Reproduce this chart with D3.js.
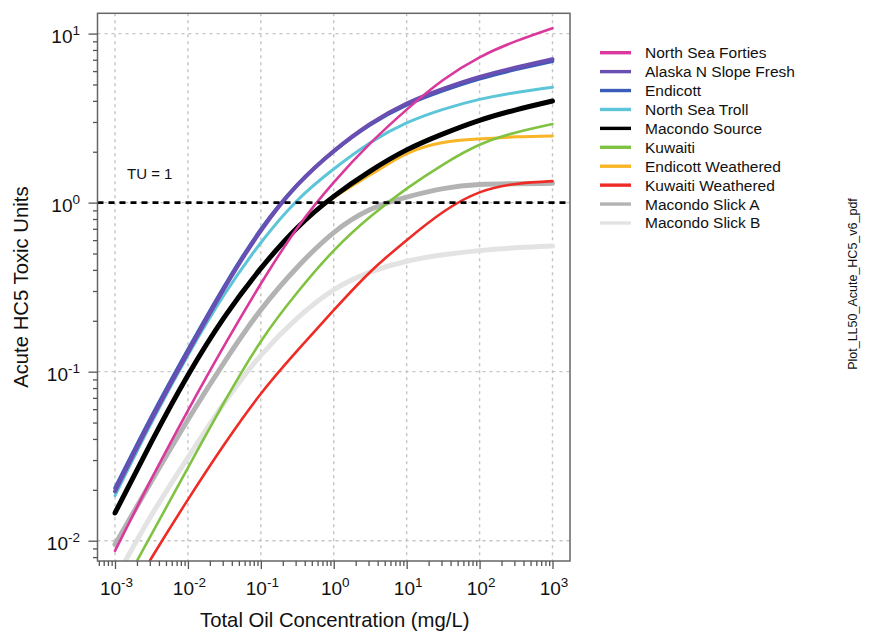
<!DOCTYPE html>
<html><head><meta charset="utf-8">
<script src="https://cdn.jsdelivr.net/npm/d3@7"></script>
<style>
body{margin:0;background:#fff}
svg{display:block;font-family:"Liberation Sans",Arial,Helvetica,sans-serif}
</style>
</head><body>
<svg id="chart" width="871" height="632"></svg>
<script>
// ---- data ----
const concentration = [1e-3, 3.162e-3, 1e-2, 3.162e-2, 0.1, 0.3162, 1, 3.162, 10, 31.62, 100, 316.2, 1000];
const seriesNames = ["North Sea Forties","Alaska N Slope Fresh","Endicott","North Sea Troll","Macondo Source",
                     "Kuwaiti","Endicott Weathered","Kuwaiti Weathered","Macondo Slick A","Macondo Slick B"];
const northSeaForties   = [0.0087, 0.0232, 0.0589, 0.143, 0.331, 0.708, 1.318, 2.24, 3.55, 5.31, 7.24, 9.02, 10.76];
const alaskaNSlopeFresh = [0.0196, 0.0521, 0.130, 0.312, 0.681, 1.268, 2.018, 2.917, 3.855, 4.71, 5.546, 6.295, 7.047];
const endicott          = [0.0205, 0.0542, 0.135, 0.321, 0.695, 1.276, 2.009, 2.884, 3.784, 4.603, 5.408, 6.138, 6.855];
const northSeaTroll     = [0.0185, 0.0498, 0.125, 0.286, 0.579, 1.03, 1.58, 2.26, 2.96, 3.56, 4.08, 4.48, 4.81];
const macondoSource     = [0.0146, 0.0384, 0.0951, 0.210, 0.408, 0.710, 1.089, 1.538, 2.051, 2.553, 3.069, 3.540, 3.990];
const kuwaiti           = [0.0044, 0.0109, 0.0270, 0.0662, 0.151, 0.294, 0.520, 0.824, 1.21, 1.68, 2.2, 2.6, 2.92];
const endicottWeathered = [0.0146, 0.0384, 0.0951, 0.210, 0.408, 0.705, 1.07, 1.46, 1.95, 2.27, 2.38, 2.45, 2.48];
const kuwaitiWeathered  = [0.00347, 0.0079, 0.0175, 0.0372, 0.074, 0.133, 0.231, 0.389, 0.60, 0.88, 1.15, 1.29, 1.34];
const macondoSlickA     = [0.0095, 0.0225, 0.052, 0.114, 0.232, 0.415, 0.665, 0.91, 1.078, 1.21, 1.279, 1.294, 1.300];
const macondoSlickB     = [0.0059, 0.01416, 0.031, 0.0655, 0.125, 0.2075, 0.305, 0.388, 0.45, 0.491, 0.52, 0.54, 0.553];
const seriesValues = [northSeaForties, alaskaNSlopeFresh, endicott, northSeaTroll, macondoSource,
                      kuwaiti, endicottWeathered, kuwaitiWeathered, macondoSlickA, macondoSlickB];
const xTickExponents = [-3,-2,-1,0,1,2,3];
const yTickExponents = [-2,-1,0,1];
const thresholdTU = 1;

// ---- styles ----
const seriesColors = ["#d9399c","#6a4fb3","#3b5cb8","#5cc6d8","#000000","#80c241","#f8b526","#ee2b25","#b3b3b3","#e3e3e3"];
const seriesWidths = [2.6, 4, 3.5, 3, 5, 2.6, 3, 2.6, 5, 5];
const drawOrder = [9,8,7,6,5,4,3,2,1,0];

const svg = d3.select("#chart");
const L = 97.5, R = 570, T = 13.3, B = 561;
const x = d3.scaleLog().domain([Math.pow(10,-3.24), Math.pow(10,3.24)]).range([L, R]);
const y = d3.scaleLog().domain([Math.pow(10,-2.12), Math.pow(10,1.12)]).range([B, T]);

svg.append("defs").append("clipPath").attr("id","clip")
  .append("rect").attr("x",L).attr("y",T).attr("width",R-L).attr("height",B-T);

// grid
const grid = svg.append("g");
xTickExponents.forEach(e => {
  const v = Math.pow(10,e);
  grid.append("line").attr("x1",x(v)).attr("x2",x(v)).attr("y1",T).attr("y2",B)
    .attr("stroke","#c4c4c4").attr("stroke-width",1.4).attr("stroke-dasharray","3,4");
});
yTickExponents.forEach(e => {
  const v = Math.pow(10,e);
  grid.append("line").attr("x1",L).attr("x2",R).attr("y1",y(v)).attr("y2",y(v))
    .attr("stroke","#c4c4c4").attr("stroke-width",1.4).attr("stroke-dasharray","3,4");
});

// curves
const line = d3.line()
  .x((d,i) => x(concentration[i]))
  .y(d => y(d))
  .curve(d3.curveNatural);
const curves = svg.append("g").attr("clip-path","url(#clip)");
drawOrder.forEach(k => {
  curves.append("path").datum(seriesValues[k])
    .attr("d", line).attr("fill","none")
    .attr("stroke", seriesColors[k]).attr("stroke-width", seriesWidths[k])
    .attr("stroke-linecap","round").attr("stroke-linejoin","round");
});

// TU = 1 line
svg.append("line").attr("x1",L).attr("x2",R).attr("y1",y(thresholdTU)).attr("y2",y(thresholdTU))
  .attr("stroke","#000").attr("stroke-width",2.8).attr("stroke-dasharray","6,5");
svg.append("text").attr("x",127).attr("y",179).attr("font-size",15).attr("fill","#111").text("TU = " + thresholdTU);

// box
svg.append("rect").attr("x",L).attr("y",T).attr("width",R-L).attr("height",B-T)
  .attr("fill","none").attr("stroke","#666").attr("stroke-width",1.5);

// x axis ticks
const xAxisG = svg.append("g").attr("transform",`translate(0,${B})`);
const xAxis = d3.axisBottom(x)
  .tickValues(d3.range(-4,4).flatMap(e => d3.range(1,10).map(m => m*Math.pow(10,e)))
     .filter(v => v >= x.domain()[0] && v <= x.domain()[1]))
  .tickFormat("").tickSizeOuter(0);
xAxisG.call(xAxis);
xAxisG.select(".domain").remove();
xAxisG.selectAll(".tick line").attr("stroke","#555").attr("stroke-width",1.3)
  .attr("y2", d => Math.abs(Math.log10(d) - Math.round(Math.log10(d))) < 1e-9 ? 8 : 5);

// y axis ticks
const yAxisG = svg.append("g").attr("transform",`translate(${L},0)`);
const yAxis = d3.axisLeft(y)
  .tickValues(d3.range(-3,3).flatMap(e => d3.range(1,10).map(m => m*Math.pow(10,e)))
     .filter(v => v >= y.domain()[0] && v <= y.domain()[1]))
  .tickFormat("").tickSizeOuter(0);
yAxisG.call(yAxis);
yAxisG.select(".domain").remove();
yAxisG.selectAll(".tick line").attr("stroke","#555").attr("stroke-width",1.3)
  .attr("x2", d => Math.abs(Math.log10(d) - Math.round(Math.log10(d))) < 1e-9 ? -9 : -4.5);

// tick labels
xTickExponents.forEach(e => {
  const t = svg.append("text").attr("x", x(Math.pow(10,e)) + 1.5).attr("y", 595)
    .attr("text-anchor","middle").attr("font-size",19).attr("fill","#111");
  t.append("tspan").text("10");
  t.append("tspan").attr("dy",-8).attr("font-size",13.5).text(String(e));
});
yTickExponents.forEach(e => {
  const t = svg.append("text").attr("x", 80).attr("y", y(Math.pow(10,e)) + 9.5)
    .attr("text-anchor","end").attr("font-size",19).attr("fill","#111");
  t.append("tspan").text("10");
  t.append("tspan").attr("dy",-8).attr("font-size",13.5).text(String(e));
});

// axis titles
svg.append("text").attr("x",(L+R)/2 + 1).attr("y",627).attr("text-anchor","middle")
  .attr("font-size",20.3).attr("fill","#111").text("Total Oil Concentration (mg/L)");
svg.append("text").attr("transform",`translate(28,${(T+B)/2}) rotate(-90)`).attr("text-anchor","middle")
  .attr("font-size",20.3).attr("fill","#111").text("Acute HC5 Toxic Units");

// legend
const lg = svg.append("g");
seriesNames.forEach((name,i) => {
  const cy = 52.7 + i*18.92;
  lg.append("line").attr("x1",600).attr("x2",631).attr("y1",cy).attr("y2",cy)
    .attr("stroke",seriesColors[i]).attr("stroke-width",3.4);
  lg.append("text").attr("x",645).attr("y",cy+5.5).attr("font-size",15.5).attr("fill","#111").text(name);
});

// side file label
svg.append("text").attr("transform","translate(857,284) rotate(-90)").attr("text-anchor","middle")
  .attr("font-size",12.5).attr("fill","#111").text("Plot_LL50_Acute_HC5_v6_pdf");
</script>
</body></html>
